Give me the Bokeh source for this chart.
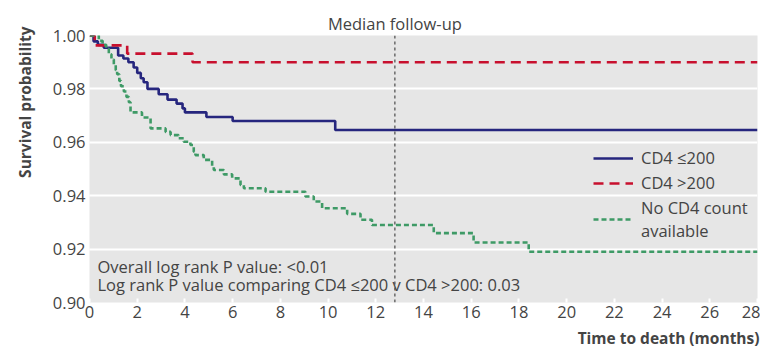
import math
from bokeh.plotting import figure
from bokeh.models import (Range1d, Span, Label, Legend, LegendItem, FixedTicker, LinearAxis,
                          Title, CustomJSTickFormatter)
from bokeh.embed import file_html
from bokeh.resources import INLINE

# ---- data ----
blue_t = [0, 0.17, 0.35, 0.6, 1.2, 1.42, 1.63, 1.85, 2.0, 2.15, 2.27, 2.43, 2.9, 3.27, 3.65, 3.9, 4.0, 4.9, 6.0, 10.3, 28]
blue_s = [1.000, 0.9978, 0.9965, 0.9954, 0.9925, 0.9914, 0.990, 0.988, 0.986, 0.984, 0.9825, 0.9800, 0.978, 0.976, 0.9745, 0.9727, 0.9712, 0.9695, 0.968, 0.9646, 0.9646]

red_t = [0, 0.22, 1.58, 4.32, 28]
red_s = [1.000, 0.9963, 0.9932, 0.9900, 0.9900]

green_t = [0, 0.39, 0.55, 0.7, 0.81, 0.92, 1.02, 1.1, 1.16, 1.25, 1.32, 1.44, 1.55, 1.65, 1.72,
           2.2, 2.56, 3.19, 3.4, 3.73, 3.95, 4.23, 4.37, 4.44, 4.79, 5.14, 5.21, 5.63, 5.98,
           6.33, 6.47, 7.38, 9.05, 9.4, 9.75, 10.8, 11.36, 11.84, 14.43, 16.1, 18.41, 28]
green_s = [1.000, 0.998, 0.9965, 0.995, 0.993, 0.991, 0.989, 0.987, 0.9855, 0.983, 0.981, 0.979, 0.977, 0.975, 0.9712,
           0.9693, 0.9652, 0.9639, 0.9627, 0.9615, 0.9602, 0.959, 0.9565, 0.9552, 0.9534, 0.9509, 0.9496, 0.948, 0.9465,
           0.944, 0.9428, 0.9415, 0.9397, 0.9378, 0.9353, 0.9332, 0.931, 0.929, 0.926, 0.9225, 0.919, 0.919]

series_names = ["CD4 ≤200", "CD4 >200", "No CD4 count\navailable"]
x_ticks = list(range(0, 29, 2))
y_ticks = [0.90, 0.92, 0.94, 0.96, 0.98, 1.00]
median_followup = 12.8
median_label = "Median follow-up"
annot_lines = ["Overall log rank P value: <0.01",
               "Log rank P value comparing CD4 ≤200 v CD4 >200: 0.03"]

FONT = "Open Sans"
TXT = "#444444"
FS = "16.5px"

p = figure(width=760, height=352, output_backend="svg", toolbar_location=None,
           x_range=Range1d(0, 28), y_range=Range1d(0.90, 1.00),
           min_border_left=89, min_border_right=3, min_border_top=35, min_border_bottom=49)
p.background_fill_color = "#e6e6e6"
p.border_fill_color = "white"
p.outline_line_color = None
p.xgrid.visible = False
p.ygrid.grid_line_color = "white"
p.ygrid.grid_line_width = 2

p.xaxis.ticker = FixedTicker(ticks=x_ticks)
p.yaxis.ticker = FixedTicker(ticks=y_ticks)
p.yaxis.formatter = CustomJSTickFormatter(code="return tick.toFixed(2);")

for ax in (p.xaxis, p.yaxis):
    ax.axis_line_color = None
    ax.major_tick_line_color = "white"
    ax.major_tick_line_width = 2
    ax.minor_tick_line_color = None
    ax.major_label_text_font = FONT
    ax.major_label_text_font_size = FS
    ax.major_label_text_color = TXT
p.xaxis.major_tick_in = 4
p.xaxis.major_tick_out = 0
p.xaxis.major_label_standoff = 3
p.yaxis.major_tick_in = 0
p.yaxis.major_tick_out = 3
p.yaxis.major_label_standoff = 1

# "Median follow-up" label placed through an axis above, at the data position
top_ax = LinearAxis(ticker=FixedTicker(ticks=[median_followup]),
                    major_label_overrides={median_followup: median_label})
top_ax.axis_line_color = None
top_ax.major_tick_line_color = None
top_ax.major_tick_in = 0
top_ax.major_tick_out = 0
top_ax.minor_tick_line_color = None
top_ax.minor_tick_in = 0
top_ax.minor_tick_out = 0
top_ax.major_label_text_font = FONT
top_ax.major_label_text_font_size = FS
top_ax.major_label_text_color = TXT
top_ax.major_label_standoff = 1
p.add_layout(top_ax, "above")

r_blue = p.step(blue_t, blue_s, mode="after", line_color="#26267e", line_width=2.6)
r_red = p.step(red_t, red_s, mode="after", line_color="#c8102e", line_width=2.6, line_dash="10 6")
r_green = p.step(green_t, green_s, mode="after", line_color="#3e9a66", line_width=2.6, line_dash="5 3")

p.add_layout(Span(location=median_followup, dimension="height", line_color="#555555",
                  line_width=1.3, line_dash="3 3"))

p.add_layout(Label(x=8, y=36, x_units="screen", y_units="screen", text=annot_lines[0],
                   text_align="left", text_baseline="middle", text_font=FONT,
                   text_font_size=FS, text_color=TXT))
p.add_layout(Label(x=8, y=18, x_units="screen", y_units="screen", text=annot_lines[1],
                   text_align="left", text_baseline="middle", text_font=FONT,
                   text_font_size=FS, text_color=TXT))

p.add_layout(Title(text="Survival probability", align="right", vertical_align="top", offset=-9,
                   standoff=24, text_font=FONT,
                   text_font_style="bold", text_font_size="15.5px", text_color=TXT), "left")
p.add_layout(Title(text="Time to death (months)", align="right", offset=-2, standoff=8, text_font=FONT,
                   text_font_style="bold", text_font_size="15.5px", text_color=TXT), "below")

legend = Legend(items=[LegendItem(label=series_names[0], renderers=[r_blue]),
                       LegendItem(label=series_names[1], renderers=[r_red]),
                       LegendItem(label=series_names[2], renderers=[r_green])],
                location=(504, 60), glyph_width=40, label_standoff=8, padding=0, margin=0,
                spacing=2, border_line_color=None, background_fill_alpha=0,
                label_text_font=FONT, label_text_font_size=FS, label_text_color=TXT,
                label_text_line_height=0.9)
p.add_layout(legend)

open("out.html", "w").write(file_html(p, INLINE))
